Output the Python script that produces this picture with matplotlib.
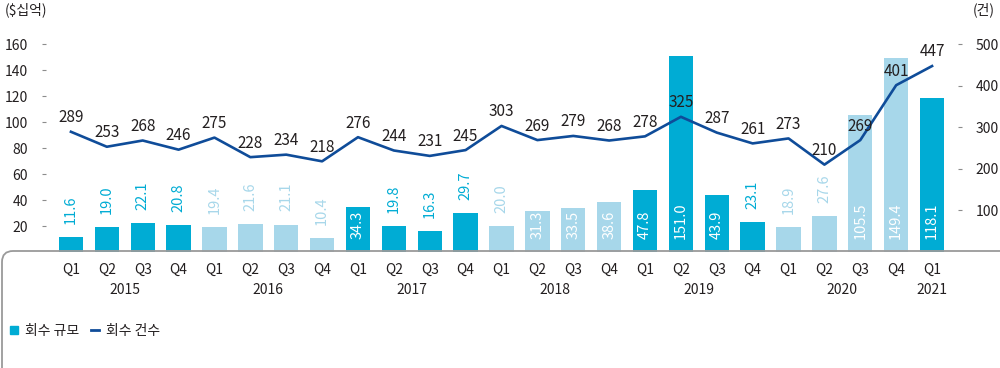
import matplotlib
matplotlib.use("Agg")
import matplotlib.pyplot as plt
from matplotlib.lines import Line2D
from matplotlib.path import Path
from matplotlib.patches import PathPatch

plt.rcParams['font.family'] = ['Noto Sans CJK KR', 'DejaVu Sans']

# data
quarters = ["Q1", "Q2", "Q3", "Q4"] * 6 + ["Q1"]
years = ["2015", "2016", "2017", "2018", "2019", "2020", "2021"]
exit_value = [11.6, 19.0, 22.1, 20.8, 19.4, 21.6, 21.1, 10.4,
              34.3, 19.8, 16.3, 29.7, 20.0, 31.3, 33.5, 38.6,
              47.8, 151.0, 43.9, 23.1, 18.9, 27.6, 105.5, 149.4, 118.1]
exit_count = [289, 253, 268, 246, 275, 228, 234, 218,
              276, 244, 231, 245, 303, 269, 279, 268,
              278, 325, 287, 261, 273, 210, 269, 401, 447]

DARK = "#00acd4"
LIGHT = "#a7d7ea"
NAVY = "#0f4c99"
TXT = "#231f20"
GRAY = "#8c8c8c"

W, H = 1000, 368
fig = plt.figure(figsize=(W / 100, H / 100), dpi=100)
x0, x1, ybase, ytop = 53, 950, 252, 31
ax = fig.add_axes([x0 / W, 1 - ybase / H, (x1 - x0) / W, (ybase - ytop) / H])
ax2 = ax.twinx()

n = len(exit_value)
xs = list(range(n))
colors = [DARK if (i // 4) % 2 == 0 else LIGHT for i in xs]

ax.bar(xs, exit_value, width=0.68, color=colors, zorder=2)
for i, v in enumerate(exit_value):
    if v > 30:
        ax.annotate(f"{v:.1f}", (i, 0), xytext=(0, 9.5), textcoords="offset points",
                    rotation=90, ha="center", va="bottom", color="white", fontsize=10.5)
    else:
        ax.annotate(f"{v:.1f}", (i, v), xytext=(0, 9.5), textcoords="offset points",
                    rotation=90, ha="center", va="bottom", color=colors[i], fontsize=10.5)

ax2.plot(xs, exit_count, color=NAVY, lw=1.9, zorder=3)
for i, v in enumerate(exit_count):
    ax2.annotate(str(v), (i, v), xytext=(0, 4), textcoords="offset points",
                 ha="center", va="bottom", color=TXT, fontsize=11)

ax.set_xlim(-0.5, n - 0.5)
ax.set_ylim(0, 170)
ax2.set_ylim(0, 170 * 500 / 160)
ax.set_yticks(range(20, 161, 20))
ax2.set_yticks(range(100, 501, 100))

for a in (ax, ax2):
    for s in a.spines.values():
        s.set_visible(False)
# outward offsets are in points
ax.spines["left"].set_position(("outward", 5))
ax2.spines["right"].set_position(("outward", 5.8))
ax.tick_params(axis="y", length=3, width=0.8, color=GRAY, pad=10, labelsize=10, labelcolor=TXT)
ax2.tick_params(axis="y", length=3, width=0.8, color=GRAY, pad=9.4, labelsize=10, labelcolor=TXT)

ax.set_xticks(xs)
ax.set_xticklabels(quarters)
ax.tick_params(axis="x", length=0, pad=8, labelsize=10, labelcolor=TXT)

# year labels under quarter groups
for k, yr in enumerate(years):
    qs = [i for i in xs if i // 4 == k]
    xc = (qs[0] + qs[-1]) / 2
    ax.annotate(yr, (xc, 0), xycoords=("data", "axes fraction"), xytext=(0, -27.5),
                textcoords="offset points", ha="center", va="center", color=TXT, fontsize=10)

# unit labels
fig.text(5 / W, 1 - 10 / H, "($십억)", ha="left", va="center", color=TXT, fontsize=10)
fig.text(995 / W, 1 - 10 / H, "(건)", ha="right", va="center", color=TXT, fontsize=10)

# baseline with rounded corner going down
r = 11
verts = [(W, ybase - 1), (2 + r, ybase - 1), (2, ybase - 1), (2, ybase - 1 + r), (2, H)]
codes = [Path.MOVETO, Path.LINETO, Path.CURVE3, Path.CURVE3, Path.LINETO]
verts = [(vx / W, 1 - vy / H) for vx, vy in verts]
fig.patches.append(PathPatch(Path(verts, codes), transform=fig.transFigure,
                             fill=False, edgecolor="#9a9a9a", lw=1.3))

# legend
handles = [Line2D([], [], marker="s", ls="none", color=DARK, markersize=6),
           Line2D([], [], color=NAVY, lw=2)]
fig.legend(handles, ["회수 규모", "회수 건수"], loc="center left",
           bbox_to_anchor=(10 / W, 1 - 331 / H), ncol=2, frameon=False,
           borderpad=0, borderaxespad=0,
           fontsize=10, handlelength=0.55, handletextpad=0.5, columnspacing=0.9,
           labelcolor=TXT)

fig.savefig("out.png", dpi=100)
